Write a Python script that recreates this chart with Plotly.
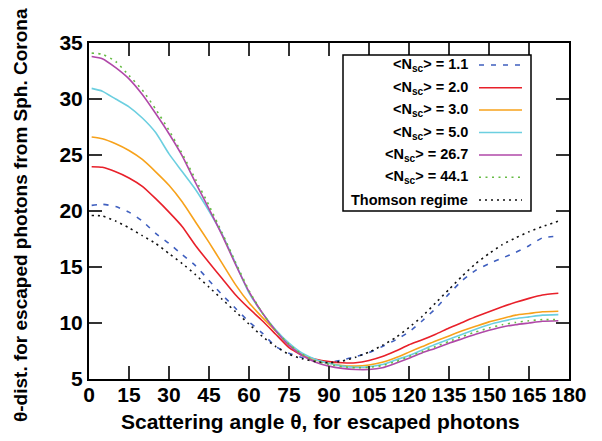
import plotly.graph_objects as go

theta = [1, 5, 10, 15, 20, 25, 30, 35, 40, 45, 50, 55, 60, 65, 70, 75, 80, 85, 90,
         95, 100, 105, 110, 115, 120, 125, 130, 135, 140, 145, 150, 155, 160, 165, 170, 176]

n_1_1 = [20.5, 20.6, 20.4, 19.9, 19.1, 18.0, 17.1, 16.1, 15.1, 13.8, 12.5, 11.3, 10.1, 9.1, 7.9, 7.3,
         6.9, 6.6, 6.5, 6.7, 7.0, 7.35, 7.9, 8.5, 9.2, 10.2, 11.3, 12.6, 13.8, 14.7, 15.3, 15.8,
         16.3, 16.9, 17.6, 17.75]
n_2_0 = [23.95, 23.9, 23.5, 22.95, 22.2, 21.1, 19.9, 18.6, 16.9, 15.4, 13.95, 12.5, 11.3, 10.2, 9.0, 7.8,
         7.1, 6.75, 6.55, 6.45, 6.45, 6.65, 7.0, 7.5, 8.05, 8.5, 9.0, 9.55, 10.05, 10.55, 11.0, 11.45,
         11.85, 12.2, 12.5, 12.65]
n_3_0 = [26.6, 26.45, 26.0, 25.4, 24.6, 23.5, 22.3, 20.8, 19.0, 17.2, 15.3, 13.4, 11.8, 10.5, 9.3, 8.1,
         7.2, 6.7, 6.4, 6.2, 6.15, 6.25, 6.5, 6.9, 7.4, 7.9, 8.4, 8.85, 9.3, 9.7, 10.1, 10.4,
         10.7, 10.85, 11.0, 11.05]
n_5_0 = [30.95, 30.7, 30.0, 29.3, 28.3, 27.0, 25.1, 23.5, 21.9, 20.0, 17.9, 15.3, 12.7, 10.9, 9.4, 8.2,
         7.3, 6.75, 6.4, 6.15, 6.05, 6.1, 6.3, 6.7, 7.1, 7.6, 8.1, 8.55, 9.0, 9.45, 9.85, 10.15,
         10.4, 10.55, 10.7, 10.75]
n_26_7 = [33.8, 33.6, 32.8, 31.8, 30.4, 28.7, 26.9, 24.9, 22.5, 20.2, 17.8, 15.2, 12.8, 10.9, 9.3, 8.0,
          7.1, 6.5, 6.15, 5.95, 5.85, 5.85, 6.0, 6.4, 6.85, 7.35, 7.75, 8.2, 8.6, 9.0, 9.35, 9.65,
          9.85, 10.0, 10.15, 10.2]
n_44_1 = [34.1, 34.0, 33.35, 32.1, 30.8, 29.1, 27.2, 25.1, 22.8, 20.5, 18.0, 15.4, 12.9, 10.9, 9.3, 8.1,
          7.2, 6.6, 6.3, 6.1, 6.0, 6.05, 6.2, 6.55, 7.0, 7.45, 7.9, 8.35, 8.8, 9.2, 9.55, 9.85,
          10.05, 10.2, 10.3, 10.3]
thomson = [19.6, 19.55, 19.1, 18.5, 17.8, 17.1, 16.2, 15.3, 14.3, 13.2, 12.1, 11.0, 9.9, 8.8, 7.9, 7.2,
           6.8, 6.55, 6.45, 6.6, 6.95, 7.4, 8.0, 8.7, 9.6, 10.6, 11.8, 13.0, 14.2, 15.3, 16.2, 17.0,
           17.6, 18.15, 18.6, 19.1]

labels = ["&lt;N<sub>sc</sub>&gt; = 1.1", "&lt;N<sub>sc</sub>&gt; = 2.0", "&lt;N<sub>sc</sub>&gt; = 3.0",
          "&lt;N<sub>sc</sub>&gt; = 5.0", "&lt;N<sub>sc</sub>&gt; = 26.7", "&lt;N<sub>sc</sub>&gt; = 44.1",
          "Thomson regime"]
series = [n_1_1, n_2_0, n_3_0, n_5_0, n_26_7, n_44_1, thomson]
colors = ["#3f5fbf", "#e8202a", "#f7a21b", "#6ccfe0", "#b048a8", "#66bb44", "#111111"]
dashes = ["5px,7px", "solid", "solid", "solid", "solid", "2px,4.5px", "2px,4px"]

W, H = 602, 441
L, R, T, B = 89, 33, 43, 62
pw, ph = W - L - R, H - T - B

def px(x):
    return (x - L) / pw

def py(y):
    return (H - B - y) / ph

fig = go.Figure()
for s, c, d, name in zip(series, colors, dashes, labels):
    fig.add_trace(go.Scatter(x=theta, y=s, mode="lines", name=name,
                             line=dict(color=c, width=1.6, dash=d, shape="spline", smoothing=0.5),
                             showlegend=False))

font_tick = dict(family="Liberation Sans", size=21, color="black", weight="bold")

fig.update_layout(
    width=W, height=H, margin=dict(l=L, r=R, t=T, b=B),
    paper_bgcolor="white", plot_bgcolor="white",
    xaxis=dict(range=[0, 180], dtick=15, tick0=0, ticks="inside", ticklen=13, tickwidth=1.5,
               tickcolor="#333", showline=True, linewidth=2, linecolor="black", mirror="ticks",
               showgrid=False, zeroline=False, tickfont=font_tick, ticklabelstandoff=-4),
    yaxis=dict(range=[5, 35], dtick=5, tick0=5, ticks="inside", ticklen=13, tickwidth=1.5,
               tickcolor="#333", showline=True, linewidth=2, linecolor="black", mirror="ticks",
               showgrid=False, zeroline=False, tickfont=font_tick),
)

# axis titles
fig.add_annotation(xref="paper", yref="paper", x=px(320), y=py(421), text="Scattering angle θ, for escaped photons",
                   showarrow=False, xanchor="center", yanchor="middle",
                   font=dict(family="Liberation Sans", size=21, color="black", weight="bold"))
fig.add_annotation(xref="paper", yref="paper", x=px(20), y=py(215), text="θ-dist. for escaped photons from Sph. Corona",
                   showarrow=False, xanchor="center", yanchor="middle", textangle=-90,
                   font=dict(family="Liberation Sans", size=19, color="black", weight="bold"))

# legend box
fig.add_shape(type="rect", xref="paper", yref="paper", x0=px(343), x1=px(531), y0=py(211), y1=py(55),
              line=dict(color="black", width=1.5), fillcolor="white", layer="above")
rows = [65, 87.7, 110, 132.5, 155, 177.3, 200]
for ry, name, c, d in zip(rows, labels, colors, dashes):
    fig.add_annotation(xref="paper", yref="paper", x=px(470), y=py(ry), text=name, showarrow=False,
                       xanchor="right", yanchor="middle",
                       font=dict(family="Liberation Sans", size=14.5, color="black", weight="bold"))
    fig.add_shape(type="line", xref="paper", yref="paper", x0=px(479), x1=px(522), y0=py(ry), y1=py(ry),
                  line=dict(color=c, width=1.6, dash=d), layer="above")

fig.write_html("out.html")
